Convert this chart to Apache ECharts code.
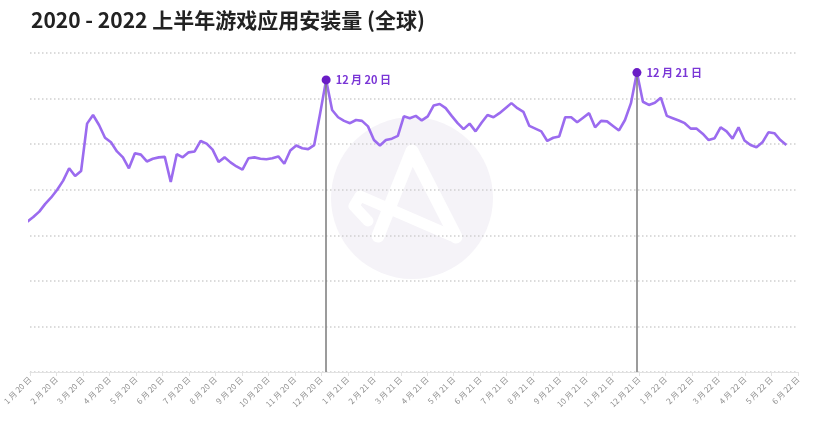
<!DOCTYPE html>
<html>
<head>
<meta charset="utf-8">
<script src="https://cdn.jsdelivr.net/npm/echarts@6/dist/echarts.min.js"></script>
<style>
html,body{margin:0;padding:0;background:#fff;}
#chart{width:830px;height:434px;}
</style>
</head>
<body>
<div id="chart"></div>
<script>
const titleText = '2020 - 2022 上半年游戏应用安装量 (全球)';

const monthLabels = [
  '1 月 20 日','2 月 20 日','3 月 20 日','4 月 20 日','5 月 20 日','6 月 20 日',
  '7 月 20 日','8 月 20 日','9 月 20 日','10 月 20 日','11 月 20 日','12 月 20 日',
  '1 月 21 日','2 月 21 日','3 月 21 日','4 月 21 日','5 月 21 日','6 月 21 日',
  '7 月 21 日','8 月 21 日','9 月 21 日','10 月 21 日','11 月 21 日','12 月 21 日',
  '1 月 22 日','2 月 22 日','3 月 22 日','4 月 22 日','5 月 22 日','6 月 22 日'
];

const installs = [
  3.30,3.40,3.52,3.69,3.83,4.00,4.20,4.47,4.30,4.41,
  5.45,5.64,5.42,5.14,5.04,4.84,4.71,4.47,4.80,4.77,
  4.62,4.68,4.71,4.72,4.17,4.78,4.71,4.82,4.84,5.07,
  5.01,4.88,4.61,4.71,4.60,4.51,4.44,4.69,4.71,4.68,
  4.67,4.69,4.73,4.57,4.86,4.97,4.91,4.89,4.98,5.68,
  6.41,5.75,5.59,5.51,5.46,5.53,5.51,5.39,5.09,4.97,
  5.09,5.12,5.18,5.61,5.57,5.62,5.52,5.61,5.85,5.88,
  5.79,5.62,5.46,5.33,5.45,5.28,5.47,5.64,5.59,5.68,
  5.79,5.90,5.79,5.71,5.40,5.34,5.28,5.07,5.14,5.17,
  5.59,5.59,5.48,5.58,5.68,5.37,5.51,5.50,5.40,5.30,
  5.53,5.90,6.57,5.93,5.86,5.91,6.02,5.62,5.57,5.52,
  5.46,5.34,5.34,5.23,5.09,5.13,5.37,5.28,5.12,5.37,
  5.08,4.98,4.93,5.04,5.26,5.24,5.09,4.98
];

const peakIndex = [50, 102];
const peakLabels = ['12 月 20 日', '12 月 21 日'];

const xMin = 0.45, xMax = 128.95;
const step = (xMax - xMin) / (monthLabels.length - 1);
const tickPos = monthLabels.map((_, k) => xMin + k * step);

const FONT = '"Noto Sans CJK SC", "Noto Sans", sans-serif';
const chart = echarts.init(document.getElementById('chart'), null, {renderer: 'canvas'});

const seriesData = installs.map((v, i) => [i, v]);

chart.setOption({
  backgroundColor: '#ffffff',
  animation: false,
  textStyle: {fontFamily: FONT},
  title: {
    text: titleText,
    left: 26, top: 5,
    textStyle: {fontSize: 21, fontWeight: 'bold', color: '#222222', fontFamily: FONT}
  },
  graphic: [
    {type: 'circle', z: -10, shape: {cx: 412, cy: 198, r: 81}, style: {fill: '#f5f3f8'}},
    {type: 'polyline', z: -9, shape: {points: [[378, 236], [412, 151], [456, 237]]},
     style: {stroke: '#ffffff', lineWidth: 13, fill: null, lineJoin: 'round', lineCap: 'round'}},
    {type: 'polyline', z: -9, shape: {points: [[452, 236], [360, 196], [354, 206], [368, 221]]},
     style: {stroke: '#ffffff', lineWidth: 11, fill: null, lineJoin: 'round', lineCap: 'round'}}
  ],
  grid: {left: 30, right: 32, top: 53, bottom: 62},
  xAxis: {
    type: 'value',
    min: xMin, max: xMax,
    axisLine: {show: true, lineStyle: {color: '#e2e2e2', width: 1}},
    axisTick: {show: true, customValues: tickPos, length: 4, lineStyle: {color: '#e2e2e2'}},
    axisLabel: {
      customValues: tickPos,
      rotate: 45, fontSize: 8, color: '#8f8f8f', margin: 6, fontFamily: FONT,
      formatter: function (v) { return monthLabels[Math.round((v - xMin) / step)] || ''; }
    },
    splitLine: {show: false}
  },
  yAxis: {
    type: 'value', min: 0, max: 7, interval: 1,
    axisLine: {show: false}, axisTick: {show: false}, axisLabel: {show: false},
    splitLine: {show: true, lineStyle: {color: '#d0d0d0', type: [1.5, 2.5], width: 1.5}}
  },
  series: [{
    type: 'line',
    data: seriesData,
    clip: false,
    symbol: 'none',
    lineStyle: {color: '#9b6bef', width: 2.6},
    z: 3,
    markLine: {
      silent: true,
      symbol: ['none', 'none'],
      label: {show: false},
      lineStyle: {color: '#7a7a7a', width: 1.5, type: 'solid'},
      data: peakIndex.map(i => [{coord: [i, installs[i]]}, {coord: [i, 0]}])
    },
    markPoint: {
      symbol: 'circle',
      symbolSize: 9,
      itemStyle: {color: '#6a1cc6'},
      label: {
        show: true, position: 'right', distance: 5,
        formatter: p => p.name,
        color: '#7a36d6', fontWeight: 'bold', fontSize: 11, fontFamily: FONT
      },
      data: peakIndex.map((i, k) => ({name: peakLabels[k], coord: [i, installs[i]]}))
    }
  }]
});
</script>
</body>
</html>
